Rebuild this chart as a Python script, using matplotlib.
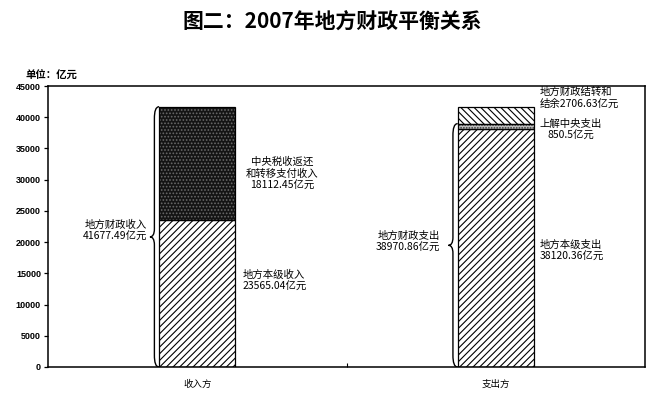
import matplotlib
matplotlib.use("Agg")
import matplotlib.pyplot as plt
from matplotlib.path import Path
from matplotlib.patches import PathPatch

plt.rcParams['font.family'] = ['Noto Sans CJK SC', 'DejaVu Sans']
plt.rcParams['hatch.linewidth'] = 0.8

# 2007 local fiscal balance (unit: 100 million yuan)
sides = ["收入方", "支出方"]
income_own = 23565.04          # 地方本级收入
income_transfer = 18112.45     # 中央税收返还和转移支付收入
income_total = 41677.49        # 地方财政收入
spend_own = 38120.36           # 地方本级支出
spend_remit = 850.5            # 上解中央支出
spend_total = 38970.86         # 地方财政支出
spend_carry = 2706.63          # 地方财政结转和结余
y_ticks = [0, 5000, 10000, 15000, 20000, 25000, 30000, 35000, 40000, 45000]

fig = plt.figure(figsize=(6.69, 4.0), dpi=100)
ax = fig.add_axes([0.0717, 0.0825, 0.8925, 0.7025])

pos = [0.5, 1.5]
bw = 0.255


def stacked(x, bottom, height, face, hatch, hatch_color):
    ax.bar(x, height, bw, bottom=bottom, color=face, edgecolor=hatch_color,
           hatch=hatch, linewidth=0, zorder=2)
    ax.bar(x, height, bw, bottom=bottom, fill=False, edgecolor='black',
           linewidth=0.9, zorder=3)


# income side
stacked(pos[0], 0, income_own, 'white', '/////', 'black')
stacked(pos[0], income_own, income_transfer, '#141414', '.....', '#6a6a6a')

# expenditure side
stacked(pos[1], 0, spend_own, 'white', '/////', 'black')
stacked(pos[1], spend_own, spend_remit, '#c0c0c0', '......', '#333333')
stacked(pos[1], spend_own + spend_remit, spend_carry, 'white', '\\\\\\\\\\', 'black')


def brace(x_right, y0, y1, r_end=1900, r_tip=1300):
    xm = x_right - 0.016
    xt = x_right - 0.031
    ym = (y0 + y1) / 2
    verts = [
        (x_right, y1),
        (xm + 0.004, y1), (xm, y1 - r_end * 0.4), (xm, y1 - r_end),
        (xm, ym + r_tip),
        (xm, ym + r_tip * 0.3), (xm - 0.006, ym), (xt, ym),
        (xm - 0.006, ym), (xm, ym - r_tip * 0.3), (xm, ym - r_tip),
        (xm, y0 + r_end),
        (xm, y0 + r_end * 0.4), (xm + 0.004, y0), (x_right, y0),
    ]
    codes = ([Path.MOVETO] + [Path.CURVE4] * 3 + [Path.LINETO] +
             [Path.CURVE4] * 6 + [Path.LINETO] + [Path.CURVE4] * 3)
    ax.add_patch(PathPatch(Path(verts, codes), fill=False, lw=1.0,
                           edgecolor='black', zorder=4))


brace(pos[0] - bw / 2, 0, income_total)
brace(pos[1] - bw / 2, 0, spend_total)

fs = 7.5
ax.text(pos[0] - bw / 2 - 0.04, income_total / 2 + 1000,
        f"地方财政收入\n{income_total:.2f}亿元", ha='right', va='center',
        fontsize=fs, linespacing=1.25)
ax.text(pos[0] + 0.284, income_own + income_transfer / 2 - 1600,
        f"中央税收返还\n和转移支付收入\n{income_transfer:.2f}亿元",
        ha='center', va='center', fontsize=fs, linespacing=1.25,
        multialignment='center')
ax.text(pos[0] + 0.153, income_own / 2 + 2100,
        f"地方本级收入\n{income_own:.2f}亿元", ha='left', va='center',
        fontsize=fs, linespacing=1.25)

ax.text(pos[1] - bw / 2 - 0.06, spend_total / 2 + 500,
        f"地方财政支出\n{spend_total:.2f}亿元", ha='right', va='center',
        fontsize=fs, linespacing=1.25)
ax.text(pos[1] + 0.148, spend_own / 2 - 500,
        f"地方本级支出\n{spend_own:.2f}亿元", ha='left', va='center',
        fontsize=fs, linespacing=1.25)
ax.text(pos[1] + 0.252, spend_own + spend_remit / 2 - 600,
        f"上解中央支出\n{spend_remit}亿元", ha='center', va='center',
        fontsize=fs, linespacing=1.25, multialignment='center')
ax.text(pos[1] + 0.148, spend_total + spend_carry + 1400,
        f"地方财政结转和\n结余{spend_carry:.2f}亿元", ha='left', va='center',
        fontsize=fs, linespacing=1.15)

ax.set_xlim(0, 2)
ax.set_ylim(0, 45000)
ax.set_yticks(y_ticks)
ax.set_yticklabels([str(v) for v in y_ticks],
                   fontfamily=['Liberation Sans', 'DejaVu Sans'],
                   fontsize=6.5, fontweight='bold')
ax.set_xticks([1])
ax.set_xticklabels([])
ax.set_xticks(pos, minor=True)
ax.set_xticklabels(sides, minor=True, fontsize=6.8)
ax.tick_params(axis='x', which='major', direction='in', length=3)
ax.tick_params(axis='x', which='minor', length=0, pad=9)
ax.tick_params(axis='y', direction='out', length=3, width=0.9, pad=2)
for s in ax.spines.values():
    s.set_linewidth(1.1)

ax.text(-0.038, 1.038, "单位：亿元", transform=ax.transAxes, fontsize=7.5,
        fontweight='bold', ha='left', va='center')
fig.text(0.497, 0.945, "图二：2007年地方财政平衡关系", ha='center', va='center',
         fontsize=15, fontweight='bold')

fig.savefig("out.png", dpi=100)
